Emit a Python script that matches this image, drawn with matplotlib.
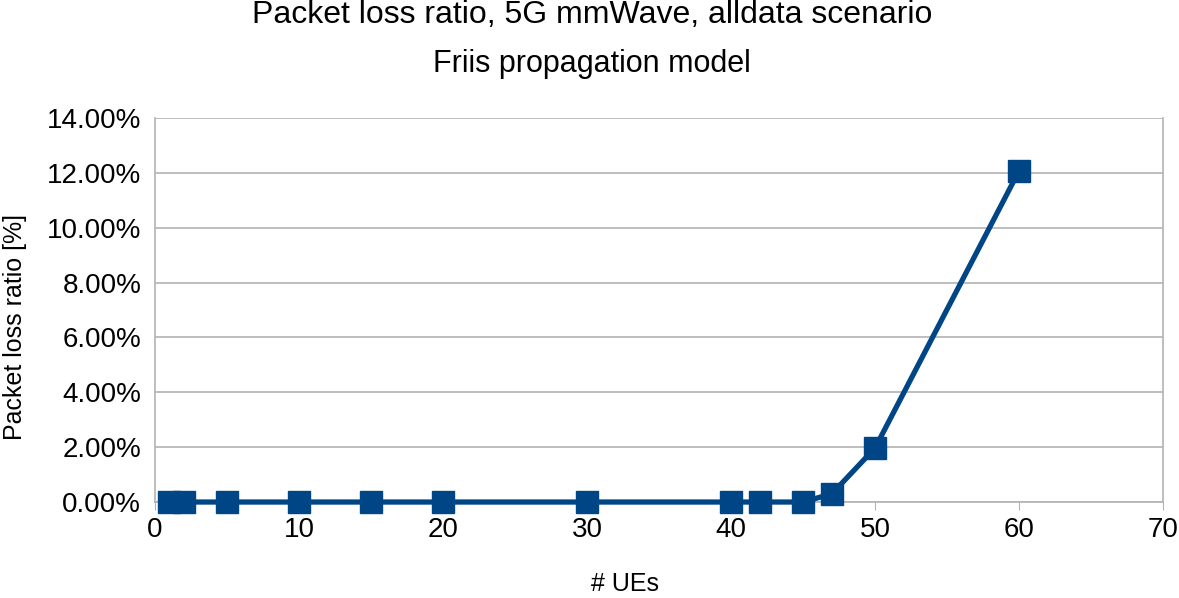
import matplotlib
matplotlib.use("Agg")
import matplotlib.pyplot as plt
from matplotlib.ticker import FuncFormatter

plt.rcParams['font.family'] = ['Liberation Sans', 'DejaVu Sans']

# data
num_ues = [1, 2, 5, 10, 15, 20, 30, 40, 42, 45, 47, 50, 60]
loss_ratio = [0.0, 0.0, 0.0, 0.0, 0.0, 0.0, 0.0, 0.0, 0.0, 0.0, 0.3, 1.97, 12.08]

fig = plt.figure(figsize=(11.79, 5.98), dpi=100)
ax = fig.add_axes([0.1315, 0.1605, 0.855, 0.642])

ax.plot(num_ues, loss_ratio, color='#004586', linewidth=3.8, marker='s',
        markersize=15.5, markerfacecolor='#004586', markeredgecolor='#004586',
        zorder=3, clip_on=False)

ax.set_xlim(0, 70)
ax.set_ylim(0, 14)
ax.set_xticks(range(0, 71, 10))
ax.set_yticks(range(0, 15, 2))
ax.yaxis.set_major_formatter(FuncFormatter(lambda v, p: f"{v:.2f}%"))

ax.grid(axis='y', color='#b3b3b3', linewidth=1.2)
ax.set_axisbelow(True)
ax.spines['top'].set_visible(False)
for s in ['left', 'bottom', 'right']:
    ax.spines[s].set_color('#b3b3b3')
    ax.spines[s].set_linewidth(1.2)

ax.tick_params(axis='both', labelsize=20, colors='#b3b3b3', labelcolor='black')
ax.tick_params(axis='y', length=0, pad=10)
ax.tick_params(axis='x', length=6, direction='out', pad=5)

# axis titles placed in figure pixels
ax.set_xlabel('# UEs', fontsize=18, va='center')
ax.xaxis.set_label_coords(625 / 1179, 1 - 584 / 598, transform=fig.transFigure)
ax.set_ylabel('Packet loss ratio [%]', fontsize=18, va='center')
ax.yaxis.set_label_coords(15 / 1179, 1 - 327 / 598, transform=fig.transFigure)

fig.text(0.502, 0.975, 'Packet loss ratio, 5G mmWave, alldata scenario',
         ha='center', va='center', fontsize=23)
fig.text(0.502, 0.893, 'Friis propagation model', ha='center', va='center', fontsize=22)

fig.savefig('out.png', dpi=100)
